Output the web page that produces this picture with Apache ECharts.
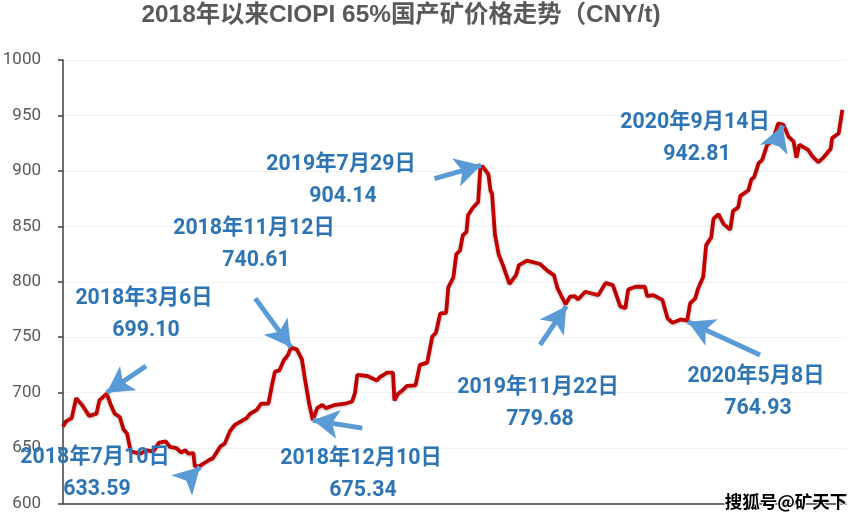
<!DOCTYPE html>
<html>
<head>
<meta charset="utf-8">
<title>CIOPI</title>
<script src="https://cdn.jsdelivr.net/npm/echarts@6/dist/echarts.min.js"></script>
<style>html,body{margin:0;padding:0;background:#fff}</style>
</head>
<body>
<div id="main" style="width:865px;height:520px;"></div>
<script>
// days since 2018-01-05
var dayOffsets = [0,4,12,18,26,36,46,50,60,65,71,78,83,88,93,106,115,124,132,141,147,156,162,168,172,179,181,188,200,206,216,222,229,236,252,257,266,272,282,287,291,297,303,309,313,321,328,332,338,343,349,356,361,374,387,397,401,404,418,431,435,445,453,455,460,466,472,484,490,500,507,512,518,526,529,536,540,545,549,554,556,563,570,573,576,584,587,589,593,598,604,613,622,626,637,655,665,674,679,690,696,703,707,717,735,745,755,765,772,776,786,799,802,810,823,830,837,848,857,861,868,872,879,883,890,893,900,907,916,920,927,930,941,945,949,955,960,967,974,982,989,996,1003,1007,1011,1023,1029,1037,1044,1054,1056,1065,1070];
var prices = [669.5,674,677,695,689,679,681,693,699.1,690,681,678,667,663,647,645,648,647,655,656,651,650,646,648,645,645.5,633.6,634,639,641,651.5,654,665,671,677,681,684.5,690,690,707,719,720,729,734,740.6,739,730,713,690,675.3,686,689,686,689,690,692,700,716,715,711,714,718,718,693,699,702,706,706.5,725,727,750.6,754,771.5,772,795,804,825,828,842,845,860,867,872,903,904.1,897,882,880,843,825,815,798,806,815,819,816,810,806,794,779.7,786.5,787,784,791,788,799,797,778,776,793,795.5,795.5,787,788,783.6,767,763,766,764.9,780.6,785,794,804.5,833,840,856.6,861,852,847,864,867,877.5,882.5,892,894.5,907,910,924,926.6,942.8,941.5,931,926.6,912,923.7,919,913,908,912,920,929.6,934,955];

var yTicks = {min: 600, max: 1000, step: 50};
var titleText = '2018年以来CIOPI 65%国产矿价格走势（CNY/t)';
var watermark = '搜狐号@矿天下';

// callouts: date, value, where the text sits, arrow tail and head in chart units
var calloutDates = ['2018年3月6日','2018年7月10日','2018年11月12日','2018年12月10日','2019年7月29日','2019年11月22日','2020年5月8日','2020年9月14日'];
var calloutValues = ['699.10','633.59','740.61','675.34','904.14','779.68','764.93','942.81'];
var calloutX = [144,95,254,361,341,538,756,695];
var calloutY = [299,458,229,459,165,388,377,123];
var arrowTails = [[114,724],[170,621],[264,785],[411,668],[510,893],[655,743],[957,734],[978,923]];
var arrowHeads = [[60,700],[188,633],[313,741],[343,675],[574,905],[691,778],[858,764],[988,941]];

var labelFont = 'bold 21.3px Roboto, "Noto Sans CJK SC"';
var blue = '#2E75B6';

var texts = [];
calloutDates.forEach(function (d, i) {
    texts.push({type: 'text', z: 100, style: {text: d, x: calloutX[i], y: calloutY[i], fill: blue, font: labelFont, align: 'center', verticalAlign: 'middle'}});
    texts.push({type: 'text', z: 100, style: {text: calloutValues[i], x: calloutX[i] + 2, y: calloutY[i] + 32, fill: blue, font: labelFont, align: 'center', verticalAlign: 'middle'}});
});
texts.push({type: 'text', z: 100, style: {text: titleText, x: 401, y: 15, fill: '#595959', font: 'bold 24.4px "Liberation Sans", "Noto Sans CJK SC"', align: 'center', verticalAlign: 'middle'}});
texts.push({type: 'text', z: 100, style: {text: watermark, x: 786, y: 501, fill: '#000', stroke: '#fff', lineWidth: 2, font: 'bold 17.5px "Noto Sans CJK SC"', align: 'center', verticalAlign: 'middle'}});

var myChart = echarts.init(document.getElementById('main'), null, {renderer: 'canvas'});
myChart.setOption({
    animation: false,
    grid: {left: 63, right: 19, top: 60, bottom: 16.5, outerBoundsMode: 'none'},
    xAxis: {
        type: 'value', min: 0, max: 1075,
        splitLine: {show: false},
        axisTick: {show: false},
        axisLabel: {show: false},
        axisLine: {onZero: false, lineStyle: {color: '#404040', width: 1.5}}
    },
    yAxis: {
        type: 'value', min: yTicks.min, max: yTicks.max, interval: yTicks.step,
        axisLine: {show: true, lineStyle: {color: '#404040', width: 1.5}},
        axisTick: {show: true, length: 5, lineStyle: {color: '#404040', width: 1.5}},
        axisLabel: {color: '#595959', fontFamily: 'Roboto', fontSize: 17, margin: 22, formatter: function (v) { return String(v); }},
        splitLine: {lineStyle: {color: '#f2f2f2', width: 1}}
    },
    series: [{
        type: 'line',
        data: dayOffsets.map(function (d, i) { return [d, prices[i]]; }),
        symbol: 'none',
        lineStyle: {color: '#C00000', width: 3.8, shadowColor: 'rgba(0,0,0,0.25)', shadowBlur: 3, shadowOffsetY: 1},
        markLine: {
            silent: true,
            symbol: ['none', 'arrow'],
            symbolSize: [22, 26],
            label: {show: false},
            lineStyle: {color: '#5B9BD5', width: 5, type: 'solid', opacity: 1},
            data: arrowTails.map(function (t, i) {
                return [{coord: t}, {coord: arrowHeads[i]}];
            })
        }
    }],
    graphic: texts
});
</script>
</body>
</html>
